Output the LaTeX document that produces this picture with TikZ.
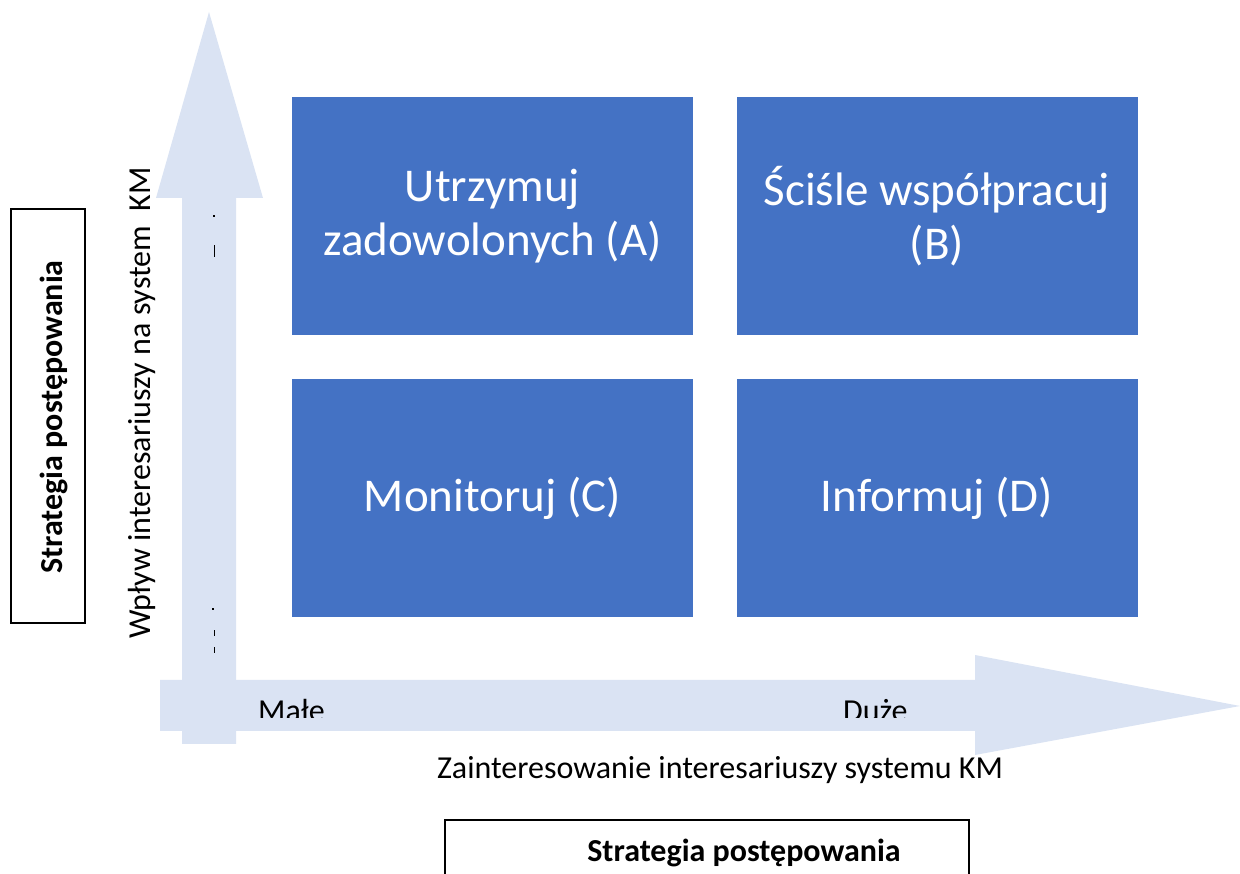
\documentclass[tikz,border=0pt]{standalone}
\usepackage{fontspec}
\setmainfont{Carlito}
\begin{document}
\begin{tikzpicture}[x=1pt,y=1pt,
  quad/.style={fill=quadblue, draw=none, minimum width=401pt, minimum height=238pt,
    text=white, align=center, font=\fontsize{47}{54}\selectfont, inner sep=0pt},
  axistext/.style={font=\fontsize{32}{38}\selectfont, inner sep=0pt},
  stratbox/.style={draw=black, line width=1.6pt},
  strattext/.style={font=\fontsize{32}{38}\selectfont\bfseries, inner sep=0pt},
  fleck/.style={fill=black, draw=none}]
\definecolor{quadblue}{HTML}{4472C4}
\definecolor{axisblue}{HTML}{DAE3F3}
\useasboundingbox (0,0) rectangle (1240,874);

% axes drawn as block arrows
\fill[axisblue] (182,130) -- (236,130) -- (236,676) -- (263,676) -- (209,862)
  -- (156,676) -- (182,676) -- cycle;
\fill[axisblue] (160,194) -- (975,194) -- (975,219) -- (1240,168) -- (975,119)
  -- (975,143) -- (160,143) -- cycle;

% small marks inside the vertical axis
\fill[fleck] (213,657) rectangle (215,659);
\fill[fleck] (213.5,617) rectangle (215,629);
\fill[fleck] (212,264) rectangle (214,266);
\fill[fleck] (213.5,238) rectangle (215,244);
\fill[fleck] (213.5,221) rectangle (215,227);

% quadrants
\node[quad] (A) at (492.5,658) {Utrzymuj\\zadowolonych (A)};
\node[quad] (B) at (937,658) {Ściśle współpracuj\\(B)};
\node[quad] (C) at (492.5,376) {Monitoruj (C)};
\node[quad] (D) at (937,376) {Informuj (D)};

% axis end labels, cut off at the lower edge of the shaft
\begin{scope}
  \clip (0,156) rectangle (1240,874);
  \node[axistext, anchor=base west] (lo) at (258,152) {Małe};
  \node[axistext, anchor=base west] (hi) at (843,152) {Duże};
\end{scope}

% axis titles
\node[axistext, anchor=base] (xt) at (720,95) {Zainteresowanie interesariuszy systemu KM};
\node[axistext, anchor=base, rotate=90] (yt) at (150,471) {Wpływ interesariuszy na system\ \ KM};

% strategy boxes
\draw[stratbox] (11,251) rectangle (85,665);
\node[strattext, anchor=base, rotate=90] (sl) at (62,457) {Strategia postępowania};
\draw[stratbox] (445,-4) -- (445,54) -- (969,54) -- (969,-4);
\node[strattext, anchor=base] (sb) at (744,12) {Strategia postępowania};
\end{tikzpicture}
\end{document}
